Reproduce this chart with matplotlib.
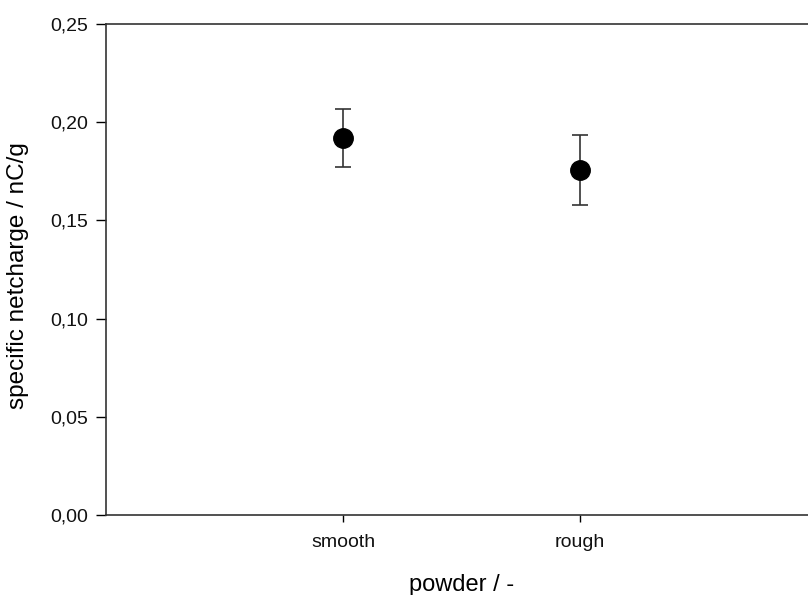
import matplotlib
matplotlib.use("Agg")
import matplotlib.pyplot as plt
from matplotlib.ticker import FuncFormatter

plt.rcParams["font.family"] = ["Liberation Sans", "DejaVu Sans"]

categories = ["smooth", "rough"]
positions = [1, 2]
charge = [0.1918, 0.1757]
charge_err = [0.0148, 0.0179]

fig = plt.figure(figsize=(8.08, 5.95), dpi=100)
ax = fig.add_axes([106 / 808, 1 - 515 / 595, 711 / 808, 491 / 595])

ax.errorbar(positions, charge, yerr=charge_err, fmt="o", color="black",
            markersize=14, ecolor="#333333", elinewidth=1.2, capsize=5.5,
            capthick=1.2)

ax.set_xlim(0, 3)
ax.set_ylim(0, 0.25)
ax.set_xticks(positions)
ax.set_xticklabels(categories)
ax.set_yticks([0, 0.05, 0.10, 0.15, 0.20, 0.25])
ax.yaxis.set_major_formatter(FuncFormatter(lambda v, _: f"{v:.2f}".replace(".", ",")))

for side in ["left", "bottom", "top"]:
    ax.spines[side].set_linewidth(1.2)
    ax.spines[side].set_color("#333333")
ax.spines["right"].set_visible(False)

ax.tick_params(axis="y", direction="out", length=7, width=1, labelsize=14, pad=6,
               labelcolor="#111111")
ax.tick_params(axis="x", direction="out", length=5, width=1, labelsize=14, pad=9,
               labelcolor="#111111")

ax.set_ylabel("specific netcharge / nC/g", fontsize=17.5)
ax.yaxis.set_label_coords(-0.108, 0.487)
ax.set_xlabel("powder / -", fontsize=17, labelpad=16)

fig.savefig("out.png", dpi=100)
